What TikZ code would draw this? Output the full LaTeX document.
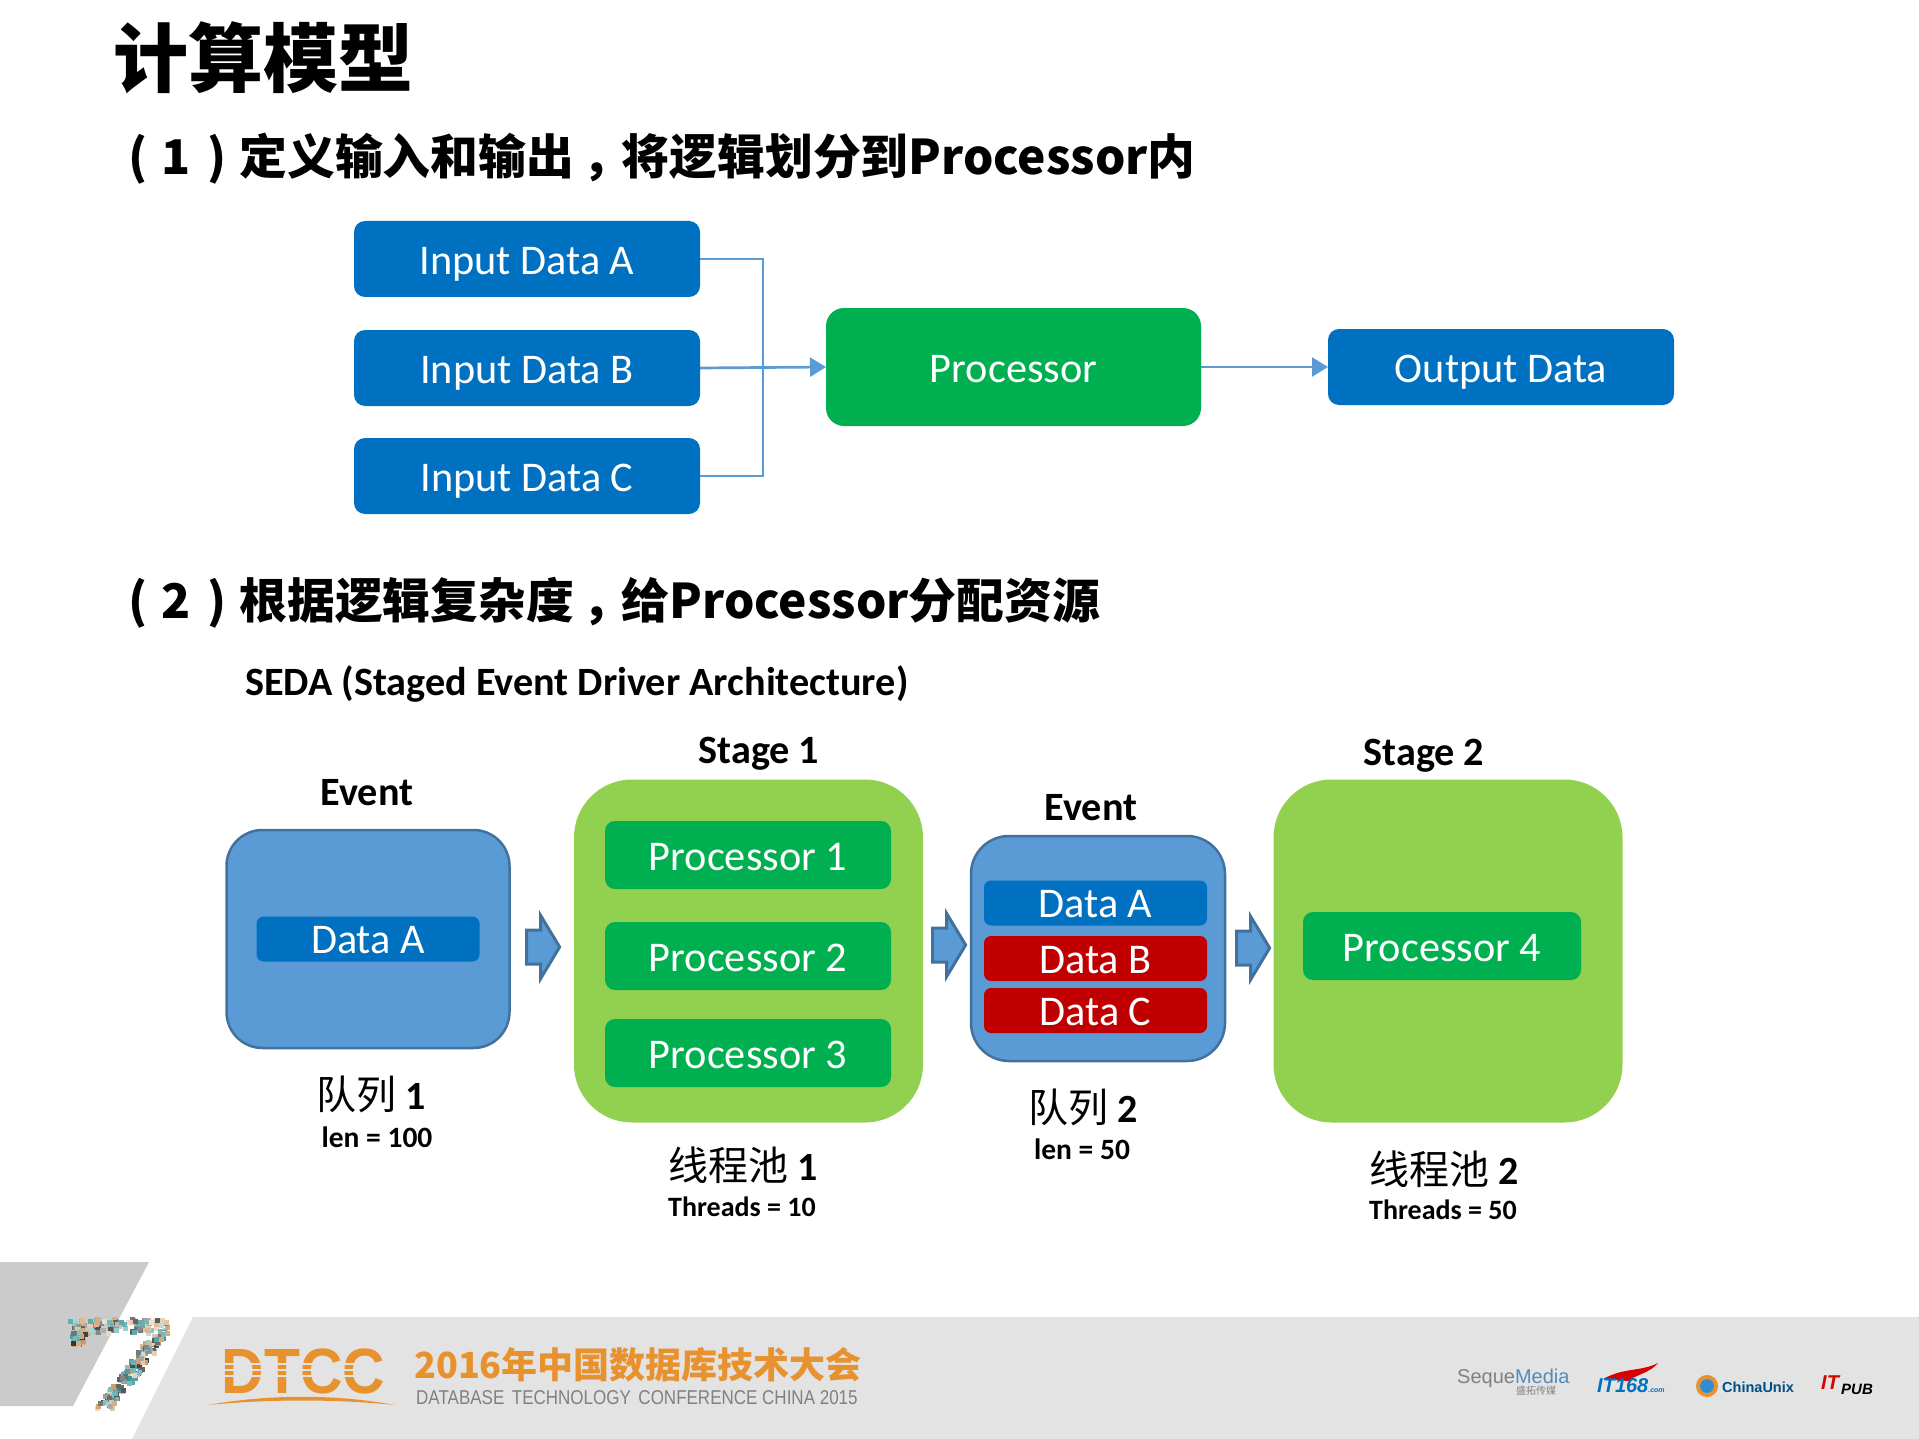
\documentclass[tikz,border=0pt]{standalone}
\usepackage{fontspec}
\setmainfont{Carlito}
\newfontfamily\cjkfont{Noto Sans CJK SC}
\newfontfamily\logofont{Liberation Sans}
\usetikzlibrary{shapes.arrows}
\usetikzlibrary{arrows.meta}
\definecolor{boxblue}{HTML}{0070C0}
\definecolor{procgreen}{HTML}{00B050}
\definecolor{poolgreen}{HTML}{92D050}
\definecolor{datared}{HTML}{C00000}
\definecolor{queueblue}{HTML}{5B9BD5}
\definecolor{queueedge}{HTML}{41719C}
\definecolor{footergray}{HTML}{E3E3E3}
\definecolor{cornergray}{HTML}{CBCBCB}
\definecolor{logoorange}{HTML}{E8922F}
\newcommand{\headnum}[1]{(\hspace{14pt}#1\hspace{17pt})\hspace{13pt}}
\newcommand{\headcomma}{\hspace{8pt}，\hspace{-8pt}}
\tikzset{
	plainbox/.style={inner sep=0pt, outer sep=0pt, text=white, text height=31pt, text depth=0pt, font=\fontsize{42.3}{46}\selectfont},
	inputbox/.style={plainbox, fill=boxblue, rounded corners=11pt, minimum width=346pt, minimum height=76pt},
	procbox/.style={plainbox, fill=procgreen, rounded corners=10pt, minimum width=286pt, minimum height=68pt},
	databox/.style={plainbox, text height=29pt, fill=boxblue, rounded corners=7pt, minimum width=223pt, minimum height=45pt},
	redbox/.style={databox, fill=datared},
	queuebox/.style={fill=queueblue, draw=queueedge, line width=2.5pt, inner sep=0pt},
	poolbox/.style={fill=poolgreen, inner sep=0pt, rounded corners=58pt, minimum width=349pt, minimum height=343pt},
	blockarrow/.style={single arrow, fill=queueblue, draw=queueedge, line width=3pt, inner sep=0pt, text height=31pt, text depth=0pt,
		minimum width=60pt, minimum height=33pt, single arrow head extend=14.5pt, single arrow tip angle=118, single arrow head indent=0pt},
	flowline/.style={draw=queueblue, line width=2.7pt},
	headline/.style={anchor=west, inner sep=0pt, font=\cjkfont\bfseries\fontsize{47.8}{50}\selectfont},
	smalllabel/.style={inner sep=0pt, font=\bfseries\fontsize{40.2}{44}\selectfont},
	cjklabel/.style={inner sep=0pt, font=\fontsize{40}{44}\selectfont},
	countlabel/.style={inner sep=0pt, font=\bfseries\fontsize{28}{32}\selectfont},
	lenlabel/.style={inner sep=0pt, font=\bfseries\fontsize{29.5}{32}\selectfont},
}
\begin{document}
\begin{tikzpicture}[x=1pt, y=-1pt]
	\useasboundingbox (0, 0) rectangle (1919, 1439);

	% headings
	\node[anchor=west, inner sep=0pt, font=\cjkfont\bfseries\fontsize{75}{78}\selectfont] (maintitle) at (113, 58) {计算模型};
	\node[headline] (headone) at (128, 159) {\headnum{1}定义输入和输出\headcomma 将逻辑划分到Processor内};
	\node[headline] (headtwo) at (128, 603) {\headnum{2}根据逻辑复杂度\headcomma 给Processor分配资源};

	% inputs, processor, output
	\node[inputbox] (inputa) at (527, 259) {Input Data A};
	\node[inputbox] (inputb) at (527, 368) {Input Data B};
	\node[inputbox] (inputc) at (527, 476) {Input Data C};
	\node[plainbox, fill=procgreen, rounded corners=18pt, minimum width=375pt, minimum height=118pt] (processor) at (1013.5, 367) {Processor};
	\node[inputbox] (outputdata) at (1501, 367) {Output Data};
	\coordinate (mergepoint) at (763, 367);

	\draw[flowline] (inputa.east) -| (mergepoint);
	\draw[flowline] (inputc.east) -| (mergepoint);
	\draw[flowline, -{Triangle[width=19pt, length=16pt]}] (inputb.east) -- (processor.west);
	\draw[flowline, -{Triangle[width=19pt, length=16pt]}] (processor.east) -- (outputdata.west);

	% SEDA
	\node[anchor=west, smalllabel] (sedalabel) at (245, 684) {SEDA (Staged Event Driver Architecture)};
	\node[smalllabel] (eventone) at (367, 793) {Event};
	\node[smalllabel] (stageone) at (759, 754) {Stage 1};
	\node[smalllabel] (eventtwo) at (1091, 808) {Event};
	\node[smalllabel] (stagetwo) at (1424, 756) {Stage 2};

	\node[queuebox, rounded corners=36pt, minimum width=283pt, minimum height=218pt] (queueone) at (368, 939) {};
	\node[databox] (dataone) at (368, 939) {Data A};
	\node[poolbox] (poolone) at (748.5, 951) {};
	\node[procbox] (procone) at (748, 855) {Processor 1};
	\node[procbox] (proctwo) at (748, 956) {Processor 2};
	\node[procbox] (procthree) at (748, 1053) {Processor 3};
	\node[queuebox, rounded corners=38pt, minimum width=254pt, minimum height=225pt] (queuetwo) at (1098, 948.5) {};
	\node[databox] (dataa) at (1095.5, 903) {Data A};
	\node[redbox] (datab) at (1095.5, 958.5) {Data B};
	\node[redbox] (datac) at (1095.5, 1010.5) {Data C};
	\node[poolbox] (pooltwo) at (1448, 951) {};
	\node[procbox, minimum width=278pt] (procfour) at (1442, 946) {Processor 4};

	\node[blockarrow] (arrowone) at (538, 947) {};
	\node[blockarrow] (arrowtwo) at (944, 945) {};
	\node[blockarrow] (arrowthree) at (1248, 948) {};

	\node[cjklabel] (queuelabelone) at (371, 1094) {{\cjkfont 队列} \textbf{1}};
	\node[lenlabel] (lenone) at (377, 1137) {len = 100};
	\node[cjklabel] (queuelabeltwo) at (1083, 1107) {{\cjkfont 队列} \textbf{2}};
	\node[lenlabel] (lentwo) at (1082, 1149) {len = 50};
	\node[cjklabel] (poollabelone) at (743, 1165) {{\cjkfont 线程池} \textbf{1}};
	\node[countlabel] (threadsone) at (742, 1207) {Threads = 10};
	\node[cjklabel] (poollabeltwo) at (1444, 1169) {{\cjkfont 线程池} \textbf{2}};
	\node[countlabel] (threadstwo) at (1443, 1210) {Threads = 50};

	% footer
	\fill[cornergray] (0, 1262) -- (149, 1262) -- (73, 1406) -- (0, 1406) -- cycle;
	\fill[footergray] (193, 1317) -- (1919, 1317) -- (1919, 1439) -- (132, 1439) -- cycle;
	\pgfmathsetseed{7}
	\foreach \i in {1,...,110} {
		\pgfmathsetmacro{\tint}{{"black","brown","teal"}[int(mod(\i,3))]}
		\pgfmathsetmacro{\px}{68+97*rnd}
		\pgfmathsetmacro{\py}{1317+14*rnd}
		\pgfmathsetmacro{\shade}{25+45*rnd}
		\fill[\tint!\shade!white] (\px, \py) rectangle ++(5, 5);
	}
	\foreach \i in {1,...,24} {
		\pgfmathsetmacro{\tint}{{"black","brown","teal"}[int(mod(\i,3))]}
		\pgfmathsetmacro{\px}{70+14*rnd}
		\pgfmathsetmacro{\py}{1330+13*rnd}
		\pgfmathsetmacro{\shade}{40+40*rnd}
		\fill[\tint!\shade!white] (\px, \py) rectangle ++(5, 5);
	}
	\foreach \i in {1,...,150} {
		\pgfmathsetmacro{\tint}{{"black","brown","teal"}[int(mod(\i,3))]}
		\pgfmathsetmacro{\t}{rnd}
		\pgfmathsetmacro{\px}{150-56*\t+17*rnd}
		\pgfmathsetmacro{\py}{1330+76*\t}
		\pgfmathsetmacro{\shade}{30+50*rnd}
		\fill[\tint!\shade!white] (\px, \py) rectangle ++(5, 5);
	}
	\node[anchor=center, inner sep=0pt, text=logoorange, font=\logofont\bfseries\fontsize{64}{68}\selectfont] (dtcc) at (303.5, 1371) {\scalebox{.92}[1]{DTCC}};
	\foreach \ypos in {1363, 1369, 1375} {
		\fill[footergray] (222, \ypos) rectangle (384, \ypos+1.8);
	}
	\fill[logoorange] (208, 1405) .. controls (270, 1394) and (335, 1394) .. (395, 1405) .. controls (335, 1399) and (270, 1399) .. (208, 1405) -- cycle;
	\node[anchor=west, inner sep=0pt, text=logoorange, font=\cjkfont\bfseries\fontsize{36}{40}\selectfont] (confname) at (414, 1365) {2016年中国数据库技术大会};
	\node[anchor=west, inner sep=0pt, text=black!50, font=\logofont\fontsize{20}{22}\selectfont] (confsub) at (416, 1398) {\scalebox{.85}[1]{DATABASE\, TECHNOLOGY\, CONFERENCE CHINA 2015}};

	% sponsors
	\node[anchor=west, inner sep=0pt, font=\logofont\fontsize{20}{24}\selectfont] (seque) at (1457, 1378) {\textcolor{black!50}{Seque}\textcolor{queueblue!90!black}{Media}};
	\node[inner sep=0pt, text=black!50, font=\cjkfont\fontsize{10}{11}\selectfont] (seqsub) at (1536, 1391) {盛拓传媒};
	\fill[red!85!black] (1603, 1379) .. controls (1625, 1367) and (1640, 1372) .. (1658, 1363) .. controls (1650, 1373) and (1635, 1375) .. (1628, 1381) -- cycle;
	\node[anchor=west, inner sep=0pt, text=boxblue, font=\logofont\bfseries\itshape\fontsize{20}{22}\selectfont] (itsixeight) at (1597, 1386) {IT168\fontsize{7}{8}\selectfont.com};
	\draw[line width=4pt, draw=logoorange] (1707, 1386) circle (9);
	\fill[boxblue!80] (1707, 1386) circle (7);
	\node[anchor=west, inner sep=0pt, text=boxblue!70!black, font=\logofont\bfseries\fontsize{14.5}{19}\selectfont] (chinaunix) at (1722, 1387) {ChinaUnix};
	\node[anchor=west, inner sep=0pt, text=red!85!black, font=\logofont\bfseries\itshape\fontsize{20}{23}\selectfont] (itpubit) at (1821, 1383) {IT};
	\node[anchor=west, inner sep=0pt, text=black, font=\logofont\bfseries\itshape\fontsize{15}{19}\selectfont] (itpubpub) at (1841, 1389) {PUB};
\end{tikzpicture}
\end{document}
